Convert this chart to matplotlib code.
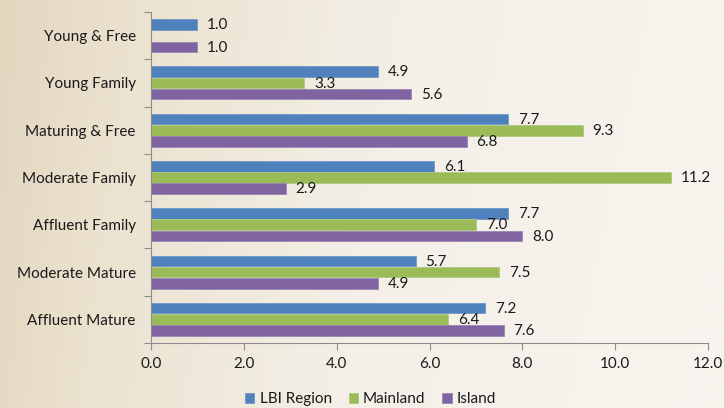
import numpy as np
import matplotlib
matplotlib.use("Agg")
import matplotlib.pyplot as plt
from matplotlib.colors import LinearSegmentedColormap

categories = ["Young & Free", "Young Family", "Maturing & Free", "Moderate Family",
              "Affluent Family", "Moderate Mature", "Affluent Mature"]
series_names = ["LBI Region", "Mainland", "Island"]
lbi_region = [1.0, 4.9, 7.7, 6.1, 7.7, 5.7, 7.2]
mainland = [np.nan, 3.3, 9.3, 11.2, 7.0, 7.5, 6.4]
island = [1.0, 5.6, 6.8, 2.9, 8.0, 4.9, 7.6]
x_ticks = [0.0, 2.0, 4.0, 6.0, 8.0, 10.0, 12.0]

colors = ["#4f81bd", "#9bbb59", "#8064a2"]
edges = ["#6f98c9", "#b0c97d", "#9a85b6"]

plt.rcParams["font.family"] = ["Lato", "DejaVu Sans"]
FS = 11

fig = plt.figure(figsize=(7.24, 4.08), dpi=100)

# parchment-style background: darker on the left, lighter to the right
bg = fig.add_axes([0, 0, 1, 1], zorder=-10)
bg.axis("off")
xx = np.linspace(0, 1, 400)
yy = np.linspace(0, 1, 220)
X, Y = np.meshgrid(xx, yy)
val = np.clip(0.15 + 0.85 * X ** 0.8 + 0.08 * (Y - 0.5), 0, 1)
cmap = LinearSegmentedColormap.from_list("parch", ["#ddd0b5", "#ebe2cf", "#f4f0e8", "#f7f4ee"])
bg.imshow(val, cmap=cmap, aspect="auto", extent=[0, 1, 0, 1], vmin=0, vmax=1)
bg.set_xlim(0, 1)
bg.set_ylim(0, 1)

ax = fig.add_axes([0.2086, 0.1593, 0.7693, 0.8113])
ax.patch.set_alpha(0)

n = len(categories)
y = np.arange(n)
h = 0.238
data = [lbi_region, mainland, island]
for k, (vals, name) in enumerate(zip(data, series_names)):
    pos = y + (k - 1) * h
    ax.barh(pos, vals, height=h * 0.94, color=colors[k], edgecolor=edges[k],
            linewidth=0.6, label=name)
    for p, v in zip(pos, vals):
        if np.isnan(v):
            continue
        ax.annotate(f"{v:.1f}", xy=(v, p), xytext=(7, -0.5), textcoords="offset points",
                    ha="left", va="center", fontsize=FS, color="#1a1a1a")

ax.set_xlim(0, 12)
ax.set_ylim(n - 0.5, -0.5)
ax.set_xticks(x_ticks)
ax.set_xticklabels([f"{t:.1f}" for t in x_ticks], fontsize=FS, color="#1a1a1a")
ax.set_yticks(y)
ax.set_yticklabels(categories, fontsize=FS, color="#1a1a1a")
ax.set_yticks(np.arange(-0.5, n, 1.0), minor=True)
ax.tick_params(axis="y", which="major", length=0, pad=11)
ax.tick_params(axis="y", which="minor", length=5, color="#8c8c8c", width=0.8, direction="out")
ax.tick_params(axis="x", which="major", length=5, color="#8c8c8c", width=0.8, direction="out", pad=5)

for s in ["top", "right"]:
    ax.spines[s].set_visible(False)
for s in ["left", "bottom"]:
    ax.spines[s].set_color("#8c8c8c")
    ax.spines[s].set_linewidth(0.8)

leg = fig.legend(loc="lower center", bbox_to_anchor=(0.512, -0.029), ncol=3, frameon=False,
                 fontsize=FS, handlelength=0.6, handleheight=0.6, handletextpad=0.35,
                 columnspacing=1.1)
for t in leg.get_texts():
    t.set_color("#1a1a1a")

fig.savefig("out.png", dpi=100)
